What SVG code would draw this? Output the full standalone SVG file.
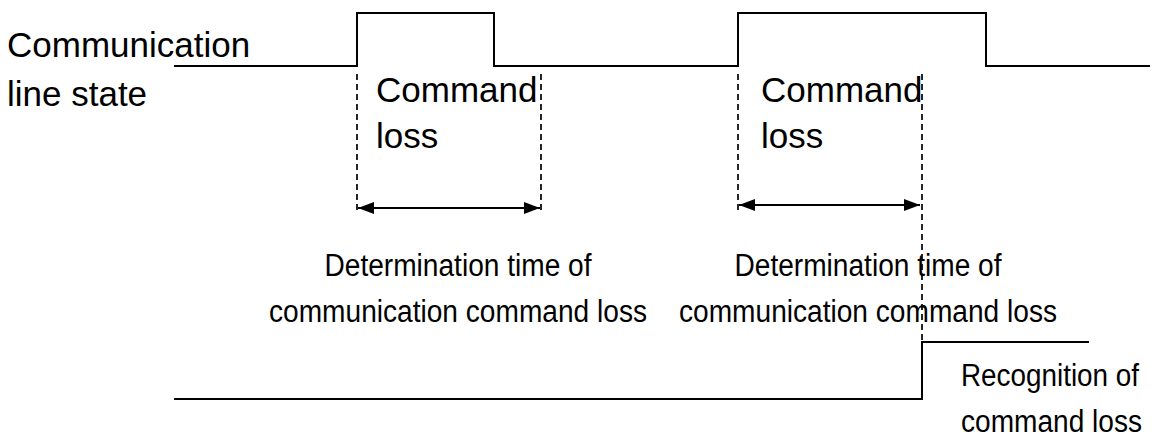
<svg xmlns="http://www.w3.org/2000/svg" width="1167" height="437" viewBox="0 0 1167 437">
<style>
.sig{fill:none;stroke:#000;stroke-width:2}
.dash{fill:none;stroke:#000;stroke-width:1.7;stroke-dasharray:6,4}
.arr{fill:none;stroke:#000;stroke-width:2;marker-start:url(#ah);marker-end:url(#ah)}
.big{font-family:"Liberation Sans",Arial,sans-serif;font-size:35px;fill:#000}
.mid{font-family:"Liberation Sans",Arial,sans-serif;font-size:31px;fill:#000}
.c{text-anchor:middle}
</style>
<defs>
<marker id="ah" viewBox="0 0 16 12" refX="16" refY="6" markerWidth="16" markerHeight="12" markerUnits="userSpaceOnUse" orient="auto-start-reverse">
<path d="M0,0 L16,6 L0,12 Z" fill="#000"/>
</marker>
</defs>
<rect width="1167" height="437" fill="#fff"/>
<g id="connectors">
<path id="line-state" class="sig" d="M174,66 H357 V13 H494 V66 H738 V13 H986 V66 H1150"/>
<path id="recognition-signal" class="sig" d="M174,399 H922 V342 H1089"/>
<line class="dash" x1="357" y1="74" x2="357" y2="210"/>
<line class="dash" x1="541" y1="74" x2="541" y2="210"/>
<line class="dash" x1="738" y1="74" x2="738" y2="210"/>
<line class="dash" x1="922" y1="74" x2="922" y2="342"/>
<line class="arr" x1="358" y1="208" x2="540" y2="208"/>
<line class="arr" x1="739" y1="205" x2="920" y2="205"/>
</g>
<g id="label-line-state">
<text class="big" x="7" y="57">Communication</text>
<text class="big" x="7" y="106">line state</text>
</g>
<g id="label-loss-1">
<text class="big" x="376" y="102">Command</text>
<text class="big" x="376" y="148">loss</text>
</g>
<g id="label-loss-2">
<text class="big" x="761" y="102">Command</text>
<text class="big" x="761" y="148">loss</text>
</g>
<g id="label-det-1">
<text class="mid c" x="458" y="276" textLength="267" lengthAdjust="spacingAndGlyphs">Determination time of</text>
<text class="mid c" x="458" y="322" textLength="378" lengthAdjust="spacingAndGlyphs">communication command loss</text>
</g>
<g id="label-det-2">
<text class="mid c" x="868" y="276" textLength="267" lengthAdjust="spacingAndGlyphs">Determination time of</text>
<text class="mid c" x="868" y="322" textLength="378" lengthAdjust="spacingAndGlyphs">communication command loss</text>
</g>
<g id="label-recognition">
<text class="mid" x="961" y="386" textLength="178" lengthAdjust="spacingAndGlyphs">Recognition of</text>
<text class="mid" x="961" y="432" textLength="181" lengthAdjust="spacingAndGlyphs">command loss</text>
</g>
</svg>
